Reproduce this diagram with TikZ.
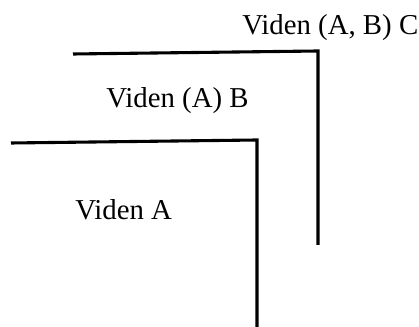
\documentclass[tikz,border=0pt]{standalone}
\usepackage{fontspec}
\setmainfont{Liberation Serif}
\begin{document}
\begin{tikzpicture}
\tikzset{
  wall/.style={line width=2.2pt,black},
  lbl/.style={anchor=base west,inner sep=0pt,font=\fontsize{20.5}{24}\selectfont}
}
\useasboundingbox (0,0) rectangle (10.475,8.175);

% Outer corner
\coordinate (outerL) at (1.825,6.825);
\coordinate (outerK) at (7.95,6.9);
\coordinate (outerB) at (7.95,2.05);
\draw[wall] (outerL) -- (outerK) -- (outerB);

% Inner corner
\coordinate (innerL) at (0.275,4.6);
\coordinate (innerK) at (6.425,4.675);
\coordinate (innerB) at (6.425,0);
\draw[wall] (innerL) -- (innerK) -- (innerB);

% Labels
\node[lbl] (vidC) at (6.05,7.3) {Viden (A, B) C};
\node[lbl] (vidB) at (2.65,5.475) {Viden (A) B};
\node[lbl] (vidA) at (1.875,2.675) {Viden A};
\end{tikzpicture}
\end{document}
